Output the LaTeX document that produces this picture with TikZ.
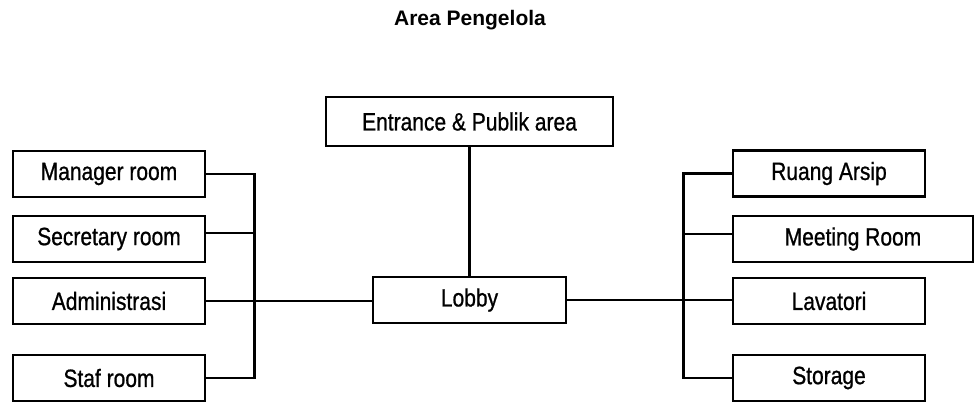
\documentclass[tikz,border=0pt]{standalone}
\usepackage{fontspec}
\setmainfont{Liberation Sans}
\newfontfamily\narrowfont[FakeStretch=0.84,FakeBold=0.8]{Liberation Sans}
\begin{document}
\begin{tikzpicture}[x=1pt,y=-1pt,
  room/.style={draw, line width=2.8pt, minimum width=192pt, minimum height=46pt,
    inner sep=0pt, font=\narrowfont\fontsize{25}{28}\selectfont},
  link/.style={line width=2.3pt}]
\useasboundingbox (0,0) rectangle (974,404);

% title
\node[font=\bfseries\fontsize{21}{24}\selectfont] (title) at (470,20) {Area Pengelola};

% central spine
\node[room, minimum width=287pt, minimum height=49pt] (ent) at (469.5,121.5) {Entrance \& Publik area};
\node[room, minimum width=193pt] (lobby) at (469.5,300) {Lobby};

% left wing
\node[room] (mgr) at (109,174) {Manager room};
\node[room] (sec) at (109,239) {Secretary room};
\node[room] (adm) at (109,301) {Administrasi};
\node[room] (staf) at (109,378) {Staf room};

% right wing
\node[room] (arsip) at (829,173.5) {Ruang Arsip};
\node[room, minimum width=240pt] (meet) at (853,239) {Meeting Room};
\node[room] (lav) at (829,301) {Lavatori};
\node[room] (stor) at (829,378) {Storage};

% connectors
\draw[link] (ent.south) -- (ent.south |- lobby.north);

\draw[link] (mgr.east) -- ++(48,0) |- (staf.east);
\draw[link] ([yshift=6pt]sec.east) -- ++(48,0);
\draw[link] (adm.east) -- (adm.east -| lobby.west);

\draw[link] (arsip.west) -- ++(-48,0) |- (stor.west);
\draw[link] ([yshift=5pt]meet.west) -- ++(-48,0);
\draw[link] (lobby.east) -- (lobby.east -| lav.west);
\end{tikzpicture}
\end{document}
